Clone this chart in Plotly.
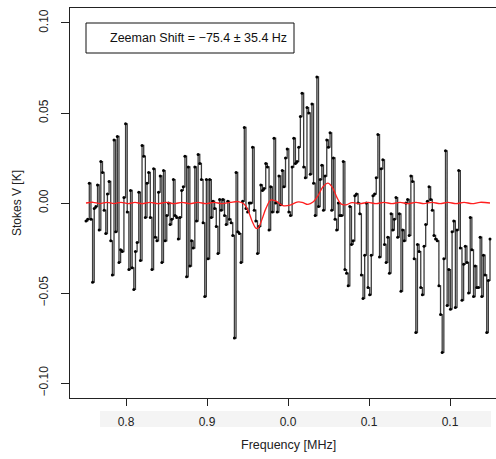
import plotly.graph_objects as go

# ---- data: Stokes V spectrum (K), evenly spaced channels ----
stokes_v = [
    # x ~ 0.75 - 0.81
    -0.010, -0.009, 0.011, -0.009, -0.044, -0.003, -0.002, 0.010, -0.015, 0.023,
    0.017, -0.004, -0.017, 0.005, 0.012, -0.021, -0.040, 0.035, -0.016, 0.037,
    -0.033, -0.026, -0.027, 0.003, 0.044, -0.005,
    # x ~ 0.81 - 0.87
    -0.037, 0.007, -0.036, -0.048, -0.027, -0.022, 0.006, -0.032, 0.032, 0.026,
    -0.008, 0.011, 0.017, -0.008, -0.037, 0.019, -0.019, -0.021, 0.006, 0.015,
    -0.033, 0.018, -0.021, -0.007, 0.000, -0.012, -0.009, 0.013, -0.007, -0.008,
    -0.020,
    # x ~ 0.87 - 0.93
    -0.008, 0.007, 0.009, 0.026, -0.041, 0.020, -0.035, -0.021, -0.025, 0.020,
    -0.010, 0.027, 0.022, 0.013, -0.011, -0.052, 0.013, -0.031, 0.013, -0.008,
    0.001, -0.003, -0.013, -0.028, 0.002, -0.004, 0.002, -0.007, -0.012, 0.001,
    -0.009, -0.011,
    # x ~ 0.93 - 0.99
    -0.018, -0.075, 0.017, -0.016, -0.017, -0.033, 0.001, 0.042, -0.003, -0.005,
    0.000, 0.000, 0.031, -0.004, -0.010, -0.028, -0.013, 0.010, 0.007, 0.008,
    0.022, 0.020, -0.015, 0.009, -0.005, 0.036, 0.000, -0.005, 0.015, -0.001,
    0.018,
    # x ~ 0.99 - 1.05
    0.009, 0.025, 0.030, -0.005, -0.007, 0.020, 0.036, 0.022, 0.023, 0.031,
    0.048, 0.061, 0.020, 0.014, 0.053, 0.050, 0.016, 0.055, 0.011, -0.007,
    0.070, -0.002, 0.013, 0.021, -0.004, 0.015, 0.035, 0.031, 0.039, -0.004,
    # x ~ 1.05 - 1.11
    0.025, -0.009, -0.015, 0.000, -0.007, -0.007, 0.023, -0.037, -0.039, -0.046,
    -0.002, -0.023, -0.021, 0.004, 0.005, 0.000, -0.006, -0.040, -0.053, -0.029,
    0.000, -0.047, -0.051, -0.029, 0.004, 0.005, 0.014, 0.038, -0.030, 0.019,
    # x ~ 1.11 - 1.18
    0.024, -0.023, -0.033, -0.019, -0.039, -0.006, -0.015, -0.009, 0.003, -0.019,
    -0.006, -0.049, -0.015, -0.021, 0.000, 0.002, -0.018, 0.015, 0.012, -0.031,
    -0.072, -0.023, -0.027, -0.047, -0.051, -0.024, -0.012, 0.001, 0.009,
    # x ~ 1.18 - 1.25
    0.002, -0.004, -0.018, -0.020, -0.021, -0.046, -0.062, -0.083, -0.031, 0.029,
    -0.057, -0.037, -0.059, -0.016, -0.010, -0.058, -0.015, 0.018, -0.025, -0.054,
    -0.034, -0.024, -0.033, -0.050, -0.008, -0.026, -0.052, -0.035, -0.047, -0.047,
    -0.019, -0.052, -0.029, -0.040, -0.072, -0.043, -0.020,
]
freq_start = 0.7506
freq_end = 1.2494
n_chan = len(stokes_v)
freq = [freq_start + i * (freq_end - freq_start) / (n_chan - 1) for i in range(n_chan)]

# ---- data: Zeeman fit (red curve) ----
fit_x = [0.7506, 0.7593, 0.7679, 0.7765, 0.7852, 0.7938, 0.8025, 0.8111, 0.8198, 0.8296,
         0.8395, 0.8494, 0.8593, 0.8691, 0.8790, 0.8889, 0.8988, 0.9086, 0.9185, 0.9284,
         0.9383, 0.9457, 0.9506, 0.9556, 0.9605, 0.9630, 0.9679, 0.9728, 0.9790, 0.9852,
         0.9938, 1.0025, 1.0111, 1.0173, 1.0247, 1.0309, 1.0370, 1.0432, 1.0494, 1.0556,
         1.0605, 1.0654, 1.0716, 1.0790, 1.0889, 1.0988, 1.1086, 1.1185, 1.1284, 1.1383,
         1.1481, 1.1580, 1.1679, 1.1778, 1.1877, 1.1975, 1.2074, 1.2173, 1.2272, 1.2370,
         1.2494]
fit_y = [0.0000, 0.0004, -0.0003, 0.0004, -0.0003, 0.0004, -0.0003, 0.0003, -0.0003, 0.0003,
         -0.0003, 0.0003, -0.0003, 0.0003, -0.0003, 0.0003, -0.0003, 0.0003, -0.0003, 0.0003,
         0.0008, -0.0005, -0.0040, -0.0100, -0.0140, -0.0140, -0.0090, -0.0030, 0.0017, 0.0010,
         -0.0015, -0.0012, 0.0005, 0.0004, -0.0008, 0.0005, 0.0040, 0.0090, 0.0110, 0.0080,
         0.0030, -0.0005, -0.0010, 0.0002, -0.0003, 0.0003, -0.0003, 0.0003, -0.0003, 0.0003,
         -0.0003, 0.0003, -0.0003, 0.0004, -0.0004, 0.0004, -0.0004, 0.0004, -0.0004, 0.0004,
         0.0000]

x_tickvals = [0.8, 0.9, 1.0, 1.1, 1.2]
x_ticktext = ["0.8", "0.9", "0.0", "0.1", "0.1"]
y_tickvals = [-0.10, -0.05, 0.0, 0.05, 0.10]
y_ticktext = ["\u22120.10", "\u22120.05", "0.00", "0.05", "0.10"]

legend_text = "Zeeman Shift = \u221275.4 \u00b1 35.4 Hz"

FONT = "Liberation Sans, Arial, Helvetica, sans-serif"
W, H = 496, 459
L, R, T, B = 70, 0, 8, 61
pw, ph = W - L - R, H - T - B


def px(xp):
    return (xp - L) / pw


def py(yp):
    return (H - B - yp) / ph


fig = go.Figure()
fig.add_trace(go.Scatter(
    x=freq, y=stokes_v, mode="lines+markers", line_shape="hv",
    line=dict(color="#3c3c3c", width=1.3),
    marker=dict(color="black", size=3),
    showlegend=False, hoverinfo="skip"))
fig.add_trace(go.Scatter(
    x=fit_x, y=fit_y, mode="lines", line_shape="spline",
    line=dict(color="#ff2020", width=1.3),
    showlegend=False, hoverinfo="skip"))

fig.update_layout(
    width=W, height=H,
    margin=dict(l=L, r=R, t=T, b=B, pad=0),
    paper_bgcolor="white", plot_bgcolor="white",
    font=dict(family=FONT, size=12, color="#222"),
    xaxis=dict(range=[0.73086, 0.8 + (W - 126) / 810], tickvals=x_tickvals, ticktext=x_ticktext,
               ticks="outside", ticklen=7, tickcolor="#222", showline=True, mirror=True,
               linecolor="#222", linewidth=1, showgrid=False, zeroline=False,
               ticklabelstandoff=6,
               tickfont=dict(size=12, color="#222")),
    yaxis=dict(range=[-0.10833, 0.10833], tickvals=y_tickvals, ticktext=y_ticktext,
               tickangle=-90, ticks="outside", ticklen=8, tickcolor="#222", showline=True,
               linecolor="#222", linewidth=1, showgrid=False, zeroline=False,
               ticklabelstandoff=8,
               tickfont=dict(size=12, color="#222")),
    shapes=[
        dict(type="rect", xref="paper", yref="paper", x0=px(100), x1=px(491),
             y0=py(427), y1=py(411), fillcolor="#f4f4f4", line=dict(width=0), layer="below"),
        dict(type="rect", xref="paper", yref="paper", x0=px(86), x1=px(294),
             y0=py(53), y1=py(23), fillcolor="white", line=dict(color="#111", width=1)),
    ],
    annotations=[
        dict(text=legend_text, xref="paper", yref="paper", x=px(198), y=py(38),
             xanchor="center", yanchor="middle", showarrow=False,
             font=dict(size=12.5, color="#111")),
        dict(text="Stokes V [K]", xref="paper", yref="paper", x=px(17), y=py(203),
             xanchor="center", yanchor="middle", textangle=-90, showarrow=False,
             font=dict(size=12, color="#222")),
        dict(text="Frequency [MHz]", xref="paper", yref="paper", x=px(288), y=py(445),
             xanchor="center", yanchor="middle", showarrow=False,
             font=dict(size=12.5, color="#222")),
    ],
)

fig.write_html("out.html")
